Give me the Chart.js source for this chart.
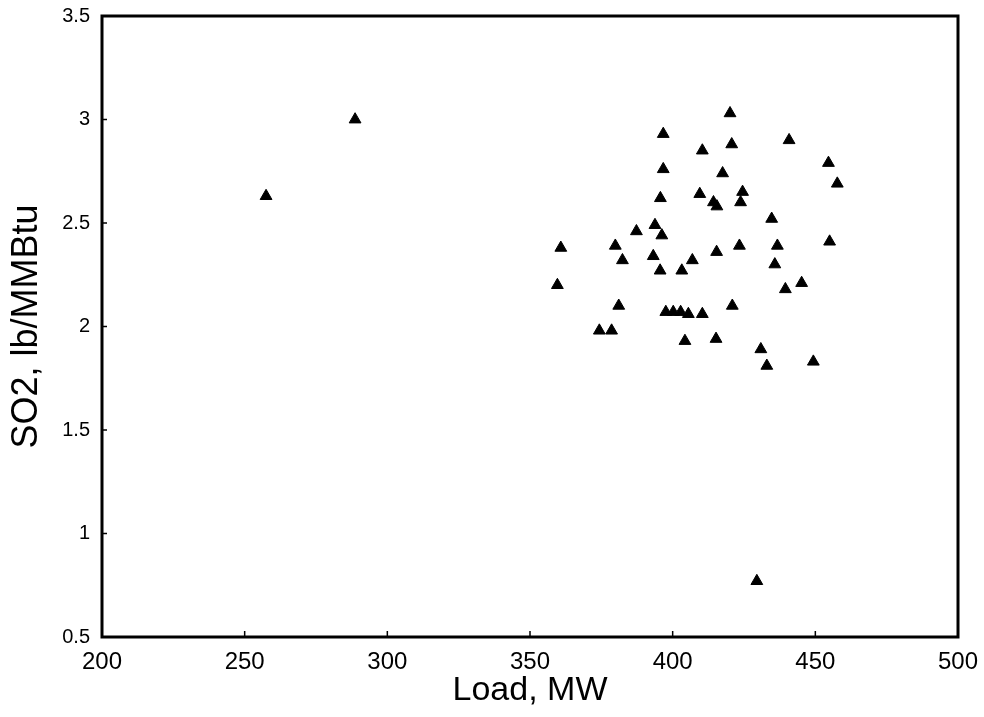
<!DOCTYPE html>
<html><head><meta charset="utf-8">
<script src="https://cdn.jsdelivr.net/npm/chart.js@4/dist/chart.umd.min.js"></script>
<style>html,body{margin:0;padding:0;background:#fff;} canvas{display:block;}</style>
</head><body>
<canvas id="c" width="984" height="717"></canvas>
<script>
// Load (MW) and SO2 (lb/MMBtu)
const loadMW = [257.5, 288.7, 360.8, 359.6, 374.3, 378.6, 379.9, 381.1, 382.4, 387.3,
                393.2, 393.8, 395.6, 395.7, 396.2, 396.7, 396.7, 397.6, 400.2, 402.8,
                405.5, 403.2, 404.3, 406.9, 409.5, 410.4, 410.4, 414.3, 415.5, 415.4,
                415.2, 417.5, 420.1, 420.7, 420.9, 423.4, 423.8, 424.5, 429.5, 430.9,
                433.0, 434.7, 435.8, 436.7, 439.5, 440.8, 445.2, 449.3, 454.6, 455.0, 457.7];
const so2 =    [2.63, 3.00, 2.38, 2.20, 1.98, 1.98, 2.39, 2.10, 2.32, 2.46,
                2.34, 2.49, 2.27, 2.62, 2.44, 2.93, 2.76, 2.07, 2.07, 2.07,
                2.06, 2.27, 1.93, 2.32, 2.64, 2.85, 2.06, 2.60, 2.58, 2.36,
                1.94, 2.74, 3.03, 2.88, 2.10, 2.39, 2.60, 2.65, 0.77, 1.89,
                1.81, 2.52, 2.30, 2.39, 2.18, 2.90, 2.21, 1.83, 2.79, 2.41, 2.69];
const xTickLabels = ["200", "250", "300", "350", "400", "450", "500"];
const yTickLabels = ["0.5", "1", "1.5", "2", "2.5", "3", "3.5"];
const xTitle = "Load, MW";
const yTitle = "SO2, lb/MMBtu";

const FONT = "'Liberation Sans', Arial, Helvetica, sans-serif";
const points = loadMW.map((x, i) => ({x: x, y: so2[i]}));
const labelFor = (arr) => (v) => { const l = arr.find(s => Math.abs(parseFloat(s) - v) < 1e-9); return l === undefined ? '' : l; };

const framePlugin = {
  id: 'frame',
  afterDraw(chart) {
    const {ctx, chartArea: a, scales} = chart;
    ctx.save();
    ctx.strokeStyle = '#000';
    ctx.lineWidth = 1.5;
    ctx.beginPath();
    scales.x.ticks.forEach(t => { const p = scales.x.getPixelForValue(t.value); ctx.moveTo(p, a.bottom); ctx.lineTo(p, a.bottom - 6); });
    scales.y.ticks.forEach(t => { const p = scales.y.getPixelForValue(t.value); ctx.moveTo(a.left, p); ctx.lineTo(a.left + 5, p); });
    ctx.stroke();
    ctx.lineWidth = 3;
    ctx.strokeRect(a.left, a.top, a.right - a.left, a.bottom - a.top);
    ctx.restore();
  }
};

new Chart(document.getElementById('c'), {
  type: 'scatter',
  data: {
    datasets: [{
      data: points,
      pointStyle: 'triangle',
      pointRadius: 6.8,
      pointHoverRadius: 6.8,
      backgroundColor: '#000',
      borderColor: '#000',
      borderWidth: 1
    }]
  },
  options: {
    responsive: false,
    animation: false,
    layout: { padding: { top: 16, right: 26, left: 0, bottom: 0 } },
    plugins: { legend: { display: false }, tooltip: { enabled: false } },
    scales: {
      x: {
        type: 'linear', min: 200, max: 500,
        afterFit: (s) => { s.height = 80; s.paddingLeft = 0; s.paddingRight = 0; },
        grid: { display: false, drawTicks: false },
        border: { display: false },
        ticks: { stepSize: 50, padding: 11, color: '#000', font: { family: FONT, size: 24 }, maxRotation: 0, callback: labelFor(xTickLabels) },
        title: { display: true, text: xTitle, color: '#000', font: { family: FONT, size: 34 }, padding: { top: 4, bottom: 6 } }
      },
      y: {
        type: 'linear', min: 0.5, max: 3.5,
        afterFit: (s) => { s.width = 102; s.paddingTop = 0; s.paddingBottom = 0; },
        grid: { display: false, drawTicks: false },
        border: { display: false },
        ticks: { stepSize: 0.5, padding: 12, color: '#000', font: { family: FONT, size: 20 }, callback: labelFor(yTickLabels) },
        title: { display: true, text: yTitle, color: '#000', font: { family: FONT, size: 36 }, padding: { top: 5, bottom: 0 } }
      }
    }
  },
  plugins: [framePlugin]
});
</script>
</body></html>
